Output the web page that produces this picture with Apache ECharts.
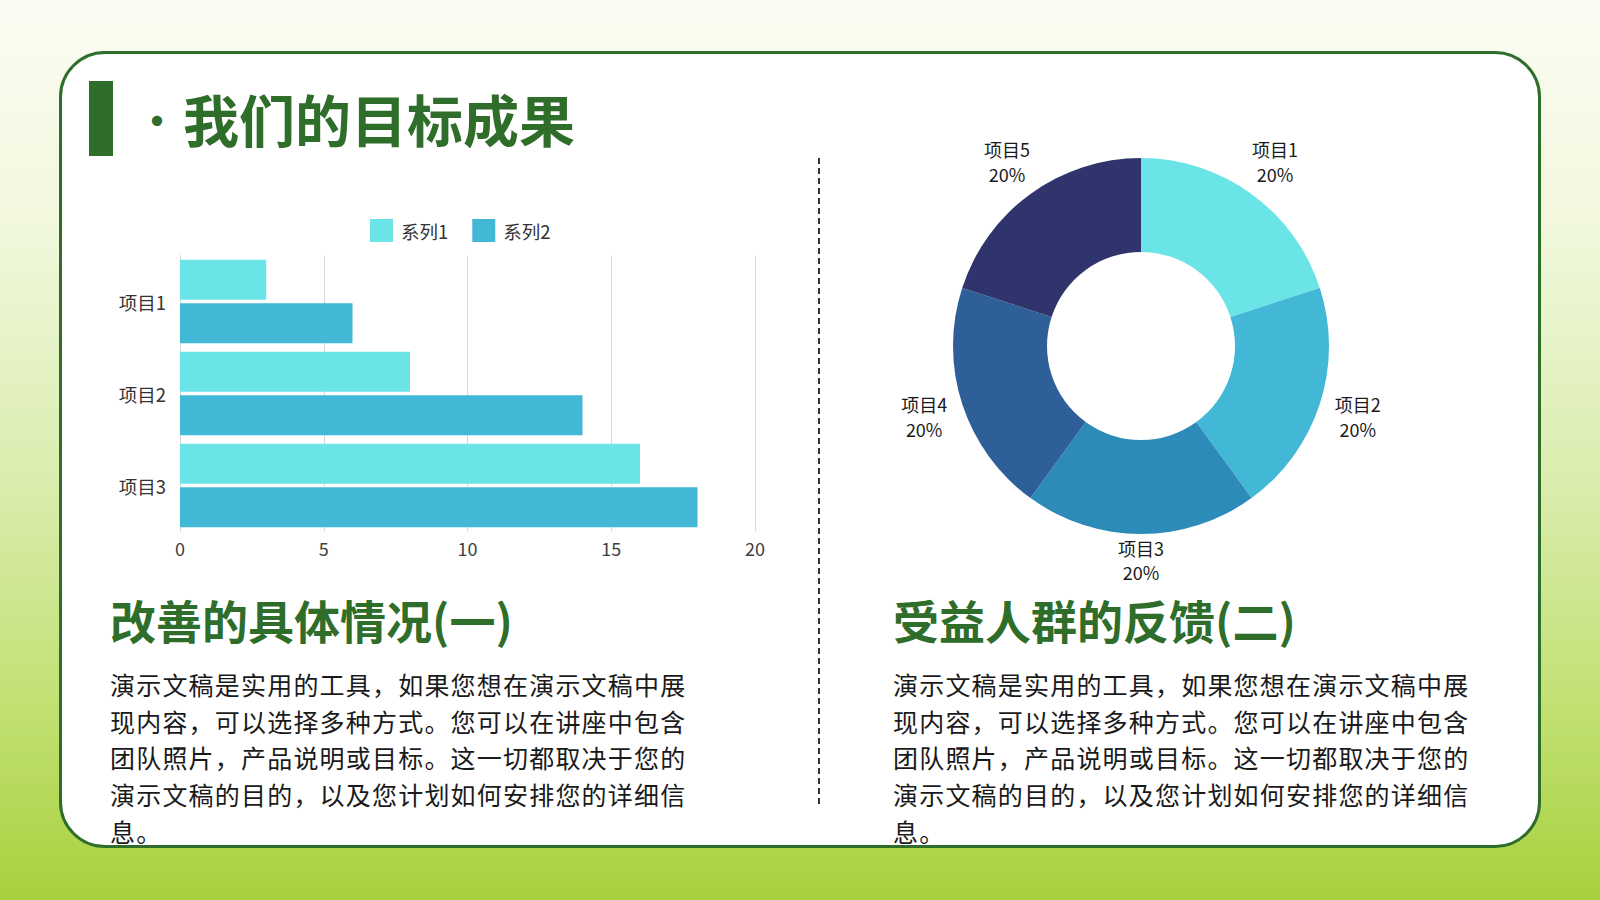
<!DOCTYPE html>
<html>
<head>
<meta charset="utf-8">
<script src="https://cdn.jsdelivr.net/npm/echarts@6/dist/echarts.min.js"></script>
<style>
  html, body { margin: 0; padding: 0; }
  body {
    width: 1600px; height: 900px; position: relative; overflow: hidden;
    font-family: "Noto Sans CJK SC", "Noto Sans", sans-serif;
    background: linear-gradient(to bottom, #fbfcf3 0%, #f1f8dd 25%, #d9ecab 55%, #bfe06f 80%, #a8d03d 100%);
  }
  .card {
    position: absolute; left: 59px; top: 51px; width: 1476px; height: 791px;
    background: #fff; border: 3px solid #2f6d2a; border-radius: 46px;
  }
  .bar { position: absolute; left: 89px; top: 81px; width: 24px; height: 75px; background: #2f6d2a; }
  .dot { position: absolute; left: 137px; top: 95px; font-size: 40px; line-height: 48px; color: #2f6d2a; font-weight: 700; }
  .title { position: absolute; left: 183px; top: 84px; font-size: 56px; line-height: 68px; color: #2f6d2a; font-weight: 700; white-space: nowrap; }
  .head { position: absolute; top: 596px; font-size: 46px; line-height: 46px; color: #2f6d2a; font-weight: 700; white-space: nowrap; }
  .para { position: absolute; top: 666px; width: 590px; font-size: 25px; letter-spacing: 1.2px; line-height: 36.7px; color: #1a1a1a; }
  .divider {
    position: absolute; left: 818px; top: 158px; width: 1.5px; height: 650px;
    background: repeating-linear-gradient(to bottom, #333 0 6px, transparent 6px 10px);
  }
  #chart { position: absolute; left: 0; top: 0; width: 1600px; height: 900px; }
</style>
</head>
<body>
<div class="card"></div>
<div class="bar"></div>
<div class="dot">•</div>
<div class="title">我们的目标成果</div>
<div class="divider"></div>
<div class="head" style="left:110px">改善的具体情况(一)</div>
<div class="head" style="left:893px">受益人群的反馈(二)</div>
<div class="para" style="left:110px">演示文稿是实用的工具，如果您想在演示文稿中展现内容，可以选择多种方式。您可以在讲座中包含团队照片，产品说明或目标。这一切都取决于您的演示文稿的目的，以及您计划如何安排您的详细信息。</div>
<div class="para" style="left:893px">演示文稿是实用的工具，如果您想在演示文稿中展现内容，可以选择多种方式。您可以在讲座中包含团队照片，产品说明或目标。这一切都取决于您的演示文稿的目的，以及您计划如何安排您的详细信息。</div>
<div id="chart"></div>
<script>
// 条形图数据
var categories = ['项目1', '项目2', '项目3'];
var seriesNames = ['系列1', '系列2'];
var series1 = [3, 8, 16];
var series2 = [6, 14, 18];
var barColors = ['#6be4e8', '#42b7d6'];

// 环形图数据
var pieNames = ['项目1', '项目2', '项目3', '项目4', '项目5'];
var pieValues = [20, 20, 20, 20, 20];
var pieColors = ['#6be4e8', '#42b7d6', '#2d8bba', '#2e5f99', '#30346c'];

var chart = echarts.init(document.getElementById('chart'), null, { renderer: 'svg' });

var pieData = pieNames.map(function (n, i) {
  return { name: n, value: pieValues[i], itemStyle: { color: pieColors[i] } };
});
// 底部标签离圆环更近一些
var labelData = pieNames.map(function (n, i) {
  var item = { name: n, value: pieValues[i] };
  if (i === 2) item.label = { offset: [0, -14] };
  return item;
});

var option = {
  backgroundColor: 'transparent',
  animation: false,
  textStyle: { fontFamily: '"Noto Sans CJK SC", sans-serif' },
  color: barColors,
  legend: {
    data: seriesNames,
    left: 365,
    top: 214,
    itemWidth: 23,
    itemHeight: 23,
    itemGap: 24,
    icon: 'rect',
    textStyle: { fontSize: 18.5, color: '#333', padding: [0, 0, 0, 3] }
  },
  grid: {
    left: 180,
    top: 255.5,
    width: 575,
    height: 276,
    containLabel: false
  },
  xAxis: {
    type: 'value',
    min: 0,
    max: 20,
    interval: 5,
    axisLine: { show: false },
    axisTick: { show: false },
    axisLabel: { fontSize: 18, color: '#404040', margin: 7 },
    splitLine: { lineStyle: { color: '#d9d9d9', width: 1 } }
  },
  yAxis: {
    type: 'category',
    inverse: true,
    data: categories,
    axisTick: { show: false },
    axisLine: { lineStyle: { color: '#d9d9d9' } },
    axisLabel: { fontSize: 18.5, color: '#333', margin: 14 }
  },
  series: [
    {
      name: seriesNames[0],
      type: 'bar',
      barWidth: 40,
      barGap: '8.5%',
      data: series1,
      itemStyle: { color: barColors[0] }
    },
    {
      name: seriesNames[1],
      type: 'bar',
      barWidth: 40,
      barGap: '8.5%',
      data: series2,
      itemStyle: { color: barColors[1] }
    },
    {
      type: 'pie',
      center: [1141, 346],
      radius: [94, 188],
      startAngle: 90,
      label: { show: false },
      labelLine: { show: false },
      silent: true,
      data: pieData
    },
    {
      // 只用来放外侧标签
      type: 'pie',
      center: [1141, 346],
      radius: [203, 247],
      startAngle: 90,
      silent: true,
      itemStyle: { color: 'rgba(0,0,0,0)' },
      label: {
        show: true,
        position: 'inside',
        formatter: '{b}\n{d}%',
        fontSize: 18,
        lineHeight: 24.5,
        color: '#1a1a1a'
      },
      labelLine: { show: false },
      data: labelData
    }
  ]
};
chart.setOption(option);
</script>
</body>
</html>
